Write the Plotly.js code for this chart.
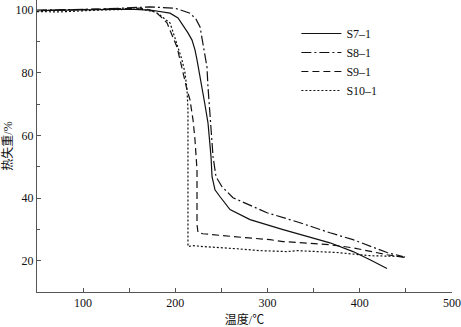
<!DOCTYPE html>
<html><head><meta charset="utf-8">
<script src="https://cdn.plot.ly/plotly-3.0.1.min.js"></script>
<style>html,body{margin:0;padding:0;background:#fff}</style>
</head><body><div id="chart" style="width:461px;height:327px"></div>
<script>
const seriesNames = ["S7\u20131", "S8\u20131", "S9\u20131", "S10\u20131"];

const s7x = [50, 96.6, 150.8, 172.5, 183.4, 194.2, 202.9, 208.3, 213.7, 218.1, 221.3, 223.5, 226.8, 229.5, 232.0, 235.4, 238.7, 239.8, 243.0, 248.5, 259.3, 281.0, 316.8, 367.7, 392.7, 411.1, 429.5];
const s7y = [99.8, 100, 100.3, 100, 99.5, 99.0, 97.5, 95.2, 92.7, 90.4, 87.3, 84.1, 79.0, 75.0, 70.0, 64.0, 53.2, 46.8, 42.6, 40.4, 36.3, 33.1, 29.9, 25.7, 22.9, 20.3, 17.5];

const s8x = [50, 118.3, 172.5, 199.6, 215.9, 222.4, 226.8, 230.0, 232.2, 234.3, 235.4, 236.5, 238.7, 240.9, 244.1, 250.6, 262.5, 299.4, 335.2, 367.7, 392.7, 429.5, 446.9];
const s8y = [100, 100.3, 101, 100.6, 99.0, 97.1, 94.6, 89.5, 85.7, 81.8, 75.5, 71.3, 64.0, 53.2, 46.8, 43.6, 40.1, 35.3, 32.1, 28.9, 26.7, 22.6, 21.3];

const s9x = [50, 118.3, 161.7, 172.5, 180.1, 185.6, 191.0, 196.4, 201.8, 205.1, 208.3, 212.7, 215.9, 219.2, 221.3, 223.5, 223.5, 223.5, 224.6, 230.0, 262.5, 302.7, 316.8, 367.7, 392.7, 429.5, 449.1];
const s9y = [99.8, 100.3, 100.6, 100, 99.0, 97.5, 95.9, 92.0, 88.2, 84.1, 79.9, 74.5, 71.3, 64.9, 58.6, 49.0, 39.4, 31.5, 28.9, 28.6, 27.7, 26.7, 26.1, 25.1, 24.1, 21.9, 21.0];

const s10x = [50, 74.9, 118.3, 161.7, 178, 183.4, 188.8, 194.2, 198.6, 202.9, 207.2, 210.5, 212.7, 213.7, 213.7, 213.7, 213.7, 219.2, 230, 266.9, 291.8, 321.1, 331.9, 375.3, 411.1, 449.1];
const s10y = [99.5, 99.4, 100, 100.3, 99.4, 98.4, 97.1, 95.9, 92.0, 88.2, 84.1, 79.9, 74.5, 68.1, 55.4, 39.4, 24.5, 24.8, 24.5, 23.8, 23.2, 22.9, 23.2, 22.6, 21.6, 21.3];

const xTicks = [100, 200, 300, 400, 500];
const yTicks = [20, 40, 60, 80, 100];
const xTitle = "温度/℃";
const yTitle = "热失重/%";

const serif = "Liberation Serif, DejaVu Serif, serif";
const cjk = "Liberation Serif, Noto Sans CJK SC, sans-serif";

const traces = [
  {x: s7x, y: s7y, name: seriesNames[0], mode: "lines", line: {color: "#111", width: 1.2, dash: "solid"}},
  {x: s8x, y: s8y, name: seriesNames[1], mode: "lines", line: {color: "#111", width: 1.2, dash: "10px,3px,2px,3px"}},
  {x: s9x, y: s9y, name: seriesNames[2], mode: "lines", line: {color: "#111", width: 1.2, dash: "7px,4px"}},
  {x: s10x, y: s10y, name: seriesNames[3], mode: "lines", line: {color: "#111", width: 1.2, dash: "2px,2px"}}
];

const axisCommon = {
  showgrid: false, zeroline: false, showline: true, linecolor: "#555", linewidth: 1,
  ticks: "inside", ticklen: 4, tickcolor: "#555", tickwidth: 1,
  tickfont: {family: serif, size: 12, color: "#111"}, mirror: false
};

const layout = {
  width: 461, height: 327,
  margin: {l: 37, r: 9, t: 0, b: 35},
  paper_bgcolor: "#fff", plot_bgcolor: "#fff",
  showlegend: true,
  legend: {x: 0.625, y: 0.935, xanchor: "left", yanchor: "top", bgcolor: "rgba(0,0,0,0)",
           font: {family: serif, size: 12, color: "#111"}, itemwidth: 40, tracegroupgap: 0},
  xaxis: Object.assign({}, axisCommon, {
    range: [50, 500], tickvals: xTicks, ticktext: xTicks.map(String),
    minor: {dtick: 50, tick0: 0, ticks: "inside", ticklen: 4, tickcolor: "#555"},
    title: {text: xTitle, font: {family: cjk, size: 12, color: "#111"}, standoff: 6}
  }),
  yaxis: Object.assign({}, axisCommon, {
    range: [10, 103.2], tickvals: yTicks, ticktext: yTicks.map(String),
    minor: {dtick: 10, tick0: 0, ticks: "inside", ticklen: 3, tickcolor: "#555"},
    title: {text: yTitle, font: {family: cjk, size: 12, color: "#111"}, standoff: 4}
  })
};

Plotly.newPlot("chart", traces, layout, {displayModeBar: false, staticPlot: true});
</script></body></html>
